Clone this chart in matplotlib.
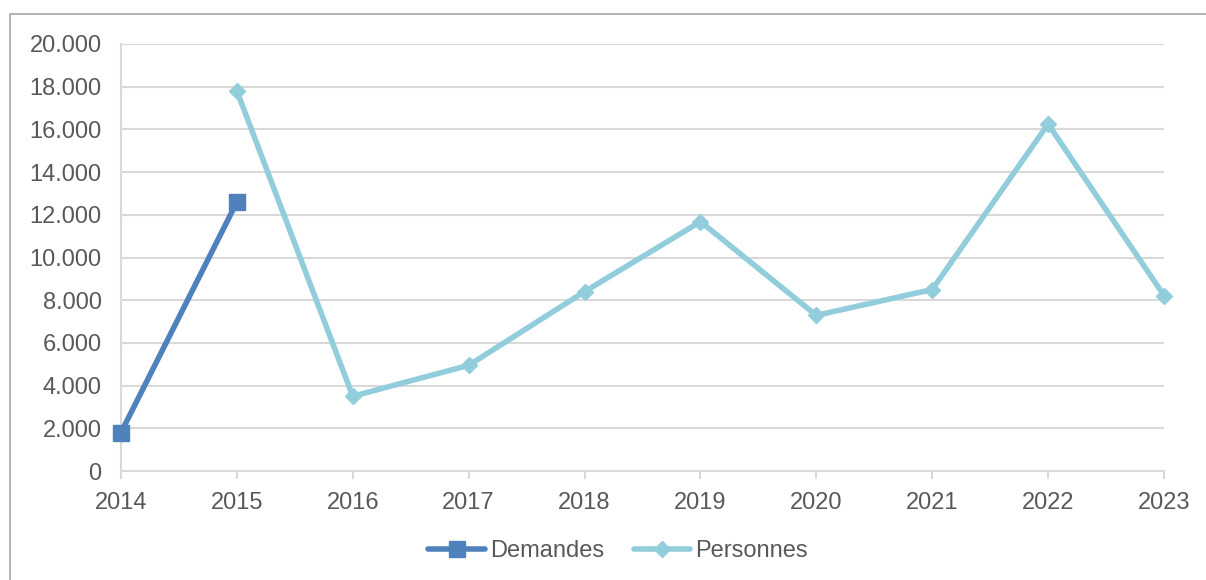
import matplotlib
matplotlib.use("Agg")
import matplotlib.pyplot as plt
from matplotlib.ticker import FuncFormatter, MultipleLocator
from matplotlib.patches import Rectangle

years = [2014, 2015, 2016, 2017, 2018, 2019, 2020, 2021, 2022, 2023]
demandes_years = [2014, 2015]
demandes = [1800, 12600]
personnes_years = [2015, 2016, 2017, 2018, 2019, 2020, 2021, 2022, 2023]
personnes = [17800, 3500, 4950, 8400, 11680, 7290, 8500, 16250, 8220]

plt.rcParams['font.family'] = ['Liberation Sans', 'DejaVu Sans']
text_color = '#595959'
grid_color = '#d9d9d9'
fs = 17

fig = plt.figure(figsize=(12.06, 5.8), dpi=100)
W, H = 1206, 580
ax = fig.add_axes([121 / W, 1 - 471 / H, (1164 - 121) / W, (471 - 44) / H])

# outer frame
fig.patches.append(Rectangle((10 / W, -0.01), 1.02, 1 - 14 / H + 0.01, transform=fig.transFigure,
                             fill=False, edgecolor='#a6a6a6', linewidth=1.2, clip_on=False))

ax.plot(demandes_years, demandes, color='#4f81bd', linewidth=4, marker='s', markersize=11,
        label='Demandes', solid_joinstyle='round', solid_capstyle='round', zorder=3, clip_on=False)
ax.plot(personnes_years, personnes, color='#92cddc', linewidth=4, marker='D', markersize=8.5,
        label='Personnes', solid_joinstyle='round', solid_capstyle='round', zorder=3, clip_on=False)

ax.set_xlim(2014, 2023)
ax.set_ylim(0, 20000)
ax.set_xticks(years)
ax.yaxis.set_major_locator(MultipleLocator(2000))
ax.yaxis.set_major_formatter(FuncFormatter(lambda v, p: f"{int(v):,}".replace(',', '.')))
ax.grid(axis='y', color=grid_color, linewidth=1.5)
ax.set_axisbelow(True)
for s in ['top', 'right']:
    ax.spines[s].set_visible(False)
ax.spines['left'].set_color(grid_color)
ax.spines['left'].set_linewidth(1.5)
ax.spines['bottom'].set_color(grid_color)
ax.spines['bottom'].set_linewidth(1.5)
ax.tick_params(axis='x', colors=text_color, labelsize=fs, length=6, width=1.5,
               color=grid_color, pad=9)
ax.tick_params(axis='y', colors=text_color, labelsize=fs, length=0, pad=14)
for lab in ax.get_xticklabels() + ax.get_yticklabels():
    lab.set_color(text_color)

leg = fig.legend(loc='center', bbox_to_anchor=(618 / W, 1 - 551 / H), ncol=2, frameon=False,
                 fontsize=fs, handlelength=2.4, handletextpad=0.2, columnspacing=1.25)
for t in leg.get_texts():
    t.set_color(text_color)

fig.savefig('out.png', dpi=100)
